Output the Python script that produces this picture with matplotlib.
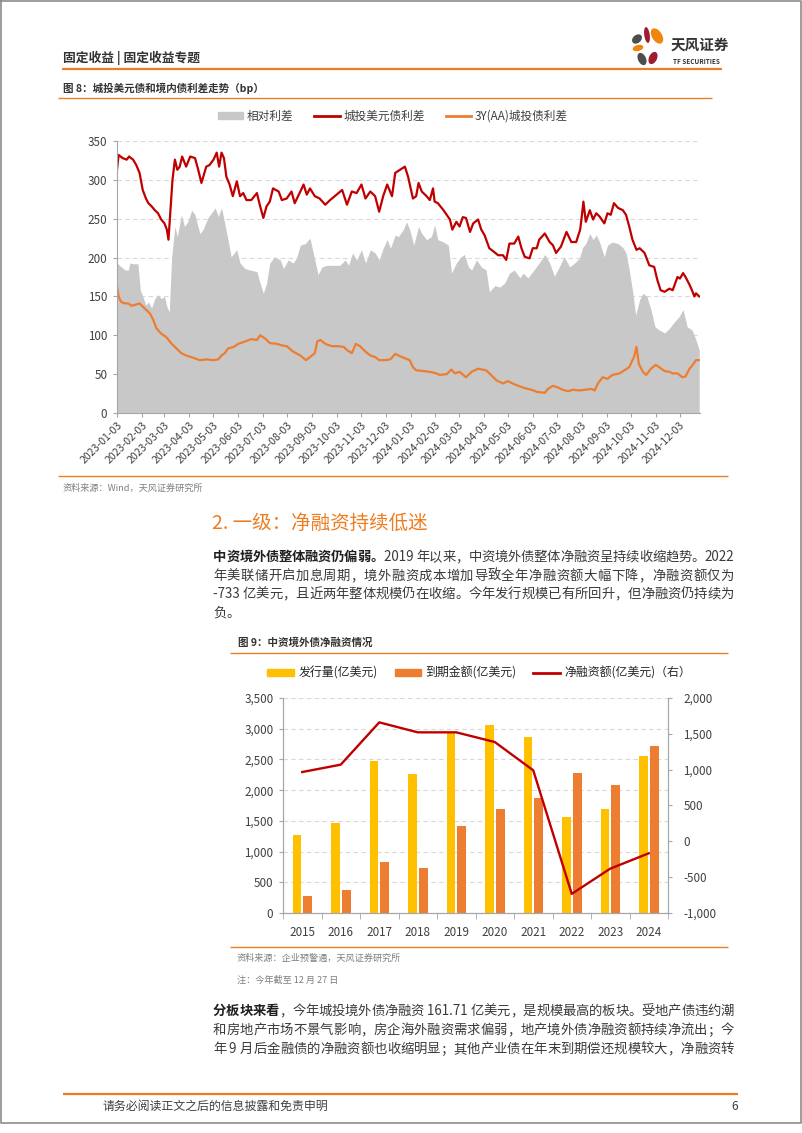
import numpy as np
import matplotlib
matplotlib.use('Agg')
import matplotlib.pyplot as plt
import matplotlib.dates as mdates
from matplotlib.lines import Line2D
from matplotlib.patches import Patch, Ellipse
from matplotlib.ticker import FuncFormatter, MultipleLocator

plt.rcParams['font.family'] = ['Noto Sans CJK SC', 'DejaVu Sans']
plt.rcParams['axes.unicode_minus'] = False

# ---------------- chart 1 data (days after 2023-01-03, bp) ----------------
red_day = [0, 2, 7, 12, 15, 20, 24, 28, 32, 36, 39, 43, 47, 51, 55, 59, 62, 64, 66, 69,
           72, 75, 78, 81, 86, 91, 97, 101, 105, 111, 115, 120, 124, 127, 130, 133, 136, 140, 144, 149,
           153, 157, 161, 167, 174, 178, 182, 186, 190, 194, 201, 205, 211, 217, 221, 228, 232, 236, 240, 246,
           252, 259, 265, 273, 280, 286, 292, 298, 304, 309, 315, 321, 326, 331, 336, 342, 346,
           358, 362, 368, 372, 375, 379, 385, 389, 393, 395, 399, 406, 414, 417, 422, 426, 430, 434, 439, 443,
           449, 453, 457, 463, 468, 474, 480, 484, 488, 494, 499, 503, 507, 513, 517, 522, 525, 532, 538, 542,
           546, 552, 559, 565, 571, 576, 578, 580, 583, 588, 592, 596, 600, 606, 610, 614, 618, 623, 629, 633,
           637, 641, 646, 650, 656, 662, 668, 672, 676, 681, 687, 691, 697, 700, 704, 707, 712, 715, 718, 720, 724]
red_val = [313, 332, 328, 326, 330, 326, 319, 309, 287, 276, 270, 266, 261, 257, 249, 244, 236, 223, 253, 300,
           326, 313, 317, 330, 317, 330, 328, 313, 296, 317, 319, 326, 335, 317, 335, 328, 304, 294, 279, 298,
           279, 283, 274, 274, 283, 266, 251, 266, 272, 289, 285, 274, 276, 285, 270, 285, 294, 281, 289, 279,
           276, 268, 274, 281, 287, 268, 285, 283, 294, 276, 285, 279, 259, 279, 294, 279, 309,
           317, 304, 276, 279, 296, 285, 279, 274, 289, 272, 270, 261, 249, 236, 246, 240, 252, 251, 233, 244,
           249, 236, 229, 212, 208, 203, 203, 197, 218, 218, 227, 212, 201, 199, 212, 212, 223, 231, 220, 216,
           206, 214, 233, 220, 220, 236, 253, 272, 246, 261, 249, 257, 253, 244, 257, 255, 270, 264, 261, 255,
           240, 223, 210, 212, 206, 190, 188, 171, 158, 156, 160, 158, 175, 173, 180, 175, 165, 158, 150, 154, 150]

org_day = [0, 2, 5, 10, 14, 18, 22, 28, 34, 41, 45, 49, 55, 61, 68, 74, 80, 86, 95, 103,
           111, 120, 126, 130, 134, 138, 145, 151, 159, 167, 174, 178, 184, 190, 199, 205, 211, 219, 228, 235,
           240, 246, 249, 253, 259, 267, 275, 282, 286, 292, 297, 302, 309, 315, 321, 326, 333, 340, 346, 352,
           364, 368, 372, 381, 389, 397, 401, 410, 416, 420, 426, 434, 441, 449, 459, 465, 472, 480, 486, 492,
           499, 507, 515, 523, 532, 536, 542, 548, 554, 561, 567, 575, 583, 590, 594, 598, 604, 610, 616, 625,
           631, 637, 641, 643, 646, 649, 654, 658, 664, 670, 674, 681, 687, 691, 697, 703, 707, 712, 716, 720, 724]
org_val = [163, 150, 143, 141, 141, 138, 139, 141, 135, 128, 120, 109, 102, 98, 89, 83, 77, 74, 71, 68,
           69, 68, 69, 74, 77, 83, 85, 89, 92, 95, 94, 100, 96, 90, 89, 87, 86, 79, 74, 68,
           72, 77, 92, 94, 89, 86, 86, 85, 81, 77, 89, 86, 79, 74, 72, 68, 68, 69, 76, 73,
           68, 59, 55, 54, 53, 51, 49, 50, 56, 51, 53, 46, 53, 57, 55, 49, 42, 38, 41, 38,
           35, 32, 30, 27, 26, 31, 35, 33, 30, 28, 30, 29, 30, 31, 29, 38, 46, 44, 49, 51,
           55, 59, 68, 72, 85, 63, 53, 49, 57, 62, 59, 54, 53, 51, 51, 46, 47, 57, 62, 68, 68]

gap_day = [0, 3, 10, 14, 16, 20, 26, 29, 32, 36, 39, 43, 47, 51, 55, 59, 62, 65, 68, 72,
           75, 80, 84, 88, 93, 97, 103, 107, 113, 120, 122, 126, 130, 134, 138, 142, 149, 153, 159, 165,
           174, 178, 182, 186, 190, 196, 203, 207, 213, 219, 223, 228, 234, 240, 246, 250, 255, 261, 269, 277,
           284, 288, 293, 298, 304, 309, 315, 321, 326, 331, 336, 340, 346, 350,
           356, 360, 364, 369, 375, 379, 385, 391, 395, 399, 406, 412, 416, 422, 428, 432, 437, 441, 447, 453,
           459, 463, 470, 476, 482, 488, 494, 501, 505, 511, 517, 525, 532, 538, 544, 550, 556, 563, 569, 575,
           579, 583, 588, 592, 596, 600, 606, 610, 616, 623, 629, 633, 637, 641, 645, 650, 654, 659, 664, 669,
           674, 681, 687, 693, 699, 704, 709, 715, 720, 724]
gap_val = [193, 190, 184, 184, 193, 192, 192, 158, 150, 139, 143, 135, 147, 152, 147, 150, 137, 130, 201, 240,
           227, 255, 240, 246, 261, 255, 231, 236, 251, 261, 264, 253, 264, 244, 223, 201, 210, 193, 186, 184,
           182, 167, 154, 167, 193, 201, 197, 186, 197, 193, 199, 216, 218, 225, 197, 178, 188, 190, 190, 190,
           197, 190, 206, 197, 210, 193, 210, 206, 197, 212, 223, 212, 229, 227,
           236, 246, 236, 216, 240, 231, 223, 227, 242, 223, 220, 216, 180, 193, 201, 204, 188, 184, 197, 188,
           184, 156, 164, 162, 167, 180, 184, 174, 180, 174, 182, 193, 204, 193, 176, 188, 201, 188, 193, 199,
           213, 218, 231, 223, 229, 220, 201, 216, 220, 218, 213, 206, 184, 158, 126, 146, 154, 150, 133, 111,
           107, 103, 109, 117, 124, 133, 111, 107, 94, 81]

legend1 = ['相对利差', '城投美元债利差', '3Y(AA)城投债利差']

# ---------------- chart 2 data ----------------
years = ['2015', '2016', '2017', '2018', '2019', '2020', '2021', '2022', '2023', '2024']
issue = [1265, 1460, 2480, 2263, 2940, 3066, 2870, 1557, 1688, 2556]
mature = [282, 380, 825, 738, 1411, 1688, 1872, 2279, 2084, 2719]
net = [967, 1070, 1660, 1521, 1521, 1386, 991, -733, -381, -167]
legend2 = ['发行量(亿美元)', '到期金额(亿美元)', '净融资额(亿美元)（右）']

ORANGE = '#EE7D22'
RED = '#C00000'
GRAY_TXT = '#404040'

W, H = 802, 1133
fig = plt.figure(figsize=(W / 100, H / 100), dpi=100)

# page layer in pixel coordinates (y downwards)
pg = fig.add_axes([0, 0, 1, 1])
pg.set_xlim(0, W)
pg.set_ylim(H, 0)
pg.axis('off')


def hline(y, x0, x1, color=ORANGE, lw=1.0):
    pg.plot([x0, x1], [y, y], color=color, lw=lw, solid_capstyle='butt')


def ax_rect(x0, x1, ytop, ybot):
    return [x0 / W, 1 - ybot / H, (x1 - x0) / W, (ybot - ytop) / H]


# page frame
pg.plot([0.5, 0.5, 801, 801, 0.5], [0.5, 1123, 1123, 0.5, 0.5], color='#8c8c8c', lw=1.2)

# header
pg.text(63, 58, '固定收益 | 固定收益专题', fontsize=9.2, color='#333333', weight='bold', va='center')
hline(69, 62, 722, lw=1.6)
for (cx, cy, w, h, ang, c) in [(647, 35, 5.5, 16, -8, '#9E1B32'), (657, 36, 10, 17, -32, '#F0860D'),
                               (637, 39, 8, 11, 50, '#4D4D4D'), (638, 48, 11, 6, -15, '#F0860D'),
                               (642, 59, 8, 13, -25, '#4D4D4D'), (653, 58, 8, 13, 25, '#9E1B32')]:
    pg.add_patch(Ellipse((cx, cy), w, h, angle=ang, color=c, lw=0))
pg.text(671, 45, '天风证券', fontsize=10.5, weight='bold', color='#333333', va='center')
pg.text(673, 61, 'TF SECURITIES', fontsize=4.6, weight='bold', color='#333333', va='center')

# ---------------- figure 8 ----------------
pg.text(63, 88, '图 8：城投美元债和境内债利差走势（bp）', fontsize=7.6, weight='bold', color='#333333', va='center')
hline(98, 58, 712, lw=1.0)

start = np.datetime64('2023-01-03')
ax1 = fig.add_axes(ax_rect(117, 700, 141, 413))
ax1.fill_between(start + np.array(gap_day), 0, gap_val, color='#C8C8C8', lw=0, label=legend1[0])
ax1.plot(start + np.array(red_day), red_val, color=RED, lw=1.6, label=legend1[1])
ax1.plot(start + np.array(org_day), org_val, color='#ED7D31', lw=1.6, label=legend1[2])
ax1.set_xlim(start, start + np.timedelta64(725, 'D'))
ax1.set_ylim(0, 350)
ax1.yaxis.set_major_locator(MultipleLocator(50))
ax1.xaxis.set_major_locator(mdates.MonthLocator(bymonthday=3))
ax1.xaxis.set_major_formatter(mdates.DateFormatter('%Y-%m-%d'))
ax1.grid(axis='y', color='#D9D9D9', ls=(0, (4, 3)), lw=0.8)
ax1.set_axisbelow(True)
for s in ['top', 'right']:
    ax1.spines[s].set_visible(False)
for s in ['left', 'bottom']:
    ax1.spines[s].set_color('#A6A6A6')
ax1.tick_params(axis='both', colors='#A6A6A6', length=3, labelcolor=GRAY_TXT)
ax1.tick_params(axis='y', labelsize=8.4, pad=4)
ax1.tick_params(axis='x', labelsize=7.6, pad=2)
for lab in ax1.get_xticklabels():
    lab.set_rotation(45)
    lab.set_ha('right')
    lab.set_rotation_mode('anchor')
h1 = [Patch(color='#C8C8C8'), Line2D([], [], color=RED, lw=2), Line2D([], [], color='#ED7D31', lw=2)]
ax1.legend(h1, legend1, ncol=3, loc='center', bbox_to_anchor=(0.473, 1.092), frameon=False,
           fontsize=8.4, handlelength=2.2, handleheight=0.55, handletextpad=0.3, columnspacing=1.8,
           labelcolor=GRAY_TXT)

hline(476, 58, 728, lw=1.0)
pg.text(63, 488, '资料来源：Wind，天风证券研究所', fontsize=6.6, color='#7F7F7F', va='center')

# ---------------- body text ----------------
renderer = fig.canvas.get_renderer()


def tokens(s):
    out, buf = [], ''
    for ch in s:
        if ord(ch) < 128:
            buf += ch
        else:
            if buf:
                out.append(buf)
                buf = ''
            out.append(ch)
    if buf:
        out.append(buf)
    return out


def put_line(y, parts, x0=213, x1=734, size=9.6, justify=True):
    arts = []
    for s, bold in parts:
        for tk in tokens(s):
            arts.append(pg.text(0, y, tk, fontsize=size, va='center', ha='left',
                                weight='bold' if bold else 'normal',
                                color='#1f1f1f' if bold else '#3a3a3a'))
    widths = [a.get_window_extent(renderer).width for a in arts]
    gap = (x1 - x0 - sum(widths)) / (len(arts) - 1) if justify and len(arts) > 1 else 0
    x = x0
    for a, w in zip(arts, widths):
        a.set_x(x)
        x += w + gap


pg.text(212, 523, '2. 一级：净融资持续低迷', fontsize=14, color=ORANGE, va='center', weight='medium')
put_line(557, [('中资境外债整体融资仍偏弱。', True), ('2019 年以来，中资境外债整体净融资呈持续收缩趋势。2022', False)])
put_line(576, [('年美联储开启加息周期，境外融资成本增加导致全年净融资额大幅下降，净融资额仅为', False)])
put_line(594, [('-733 亿美元，且近两年整体规模仍在收缩。今年发行规模已有所回升，但净融资仍持续为', False)])
put_line(613, [('负。', False)], justify=False)

# ---------------- figure 9 ----------------
pg.text(238, 643, '图 9：中资境外债净融资情况', fontsize=7.6, weight='bold', color='#333333', va='center')
hline(653, 230, 728, lw=1.0)

ax2 = fig.add_axes(ax_rect(283, 668, 698, 913))
x = np.arange(len(years))
b1 = ax2.bar(x - 0.135, issue, width=0.23, color='#FFC000', zorder=2)
b2 = ax2.bar(x + 0.145, mature, width=0.23, color='#ED7D31', zorder=2)
ax2.set_ylim(0, 3500)
ax2.set_xlim(-0.5, len(years) - 0.5)
ax2.yaxis.set_major_locator(MultipleLocator(500))
ax2.yaxis.set_major_formatter(FuncFormatter(lambda v, p: f'{v:,.0f}'))
ax2.grid(axis='y', color='#D9D9D9', ls=(0, (4, 3)), lw=0.8)
ax2.set_axisbelow(True)
ax2.set_xticks(x)
ax2.set_xticklabels(years)
ax2.set_xticks(np.arange(-0.5, len(years)), minor=True)
ax2.tick_params(axis='x', which='major', length=0, pad=9, labelsize=8.4, labelcolor=GRAY_TXT)
ax2.tick_params(axis='x', which='minor', length=4, color='#A6A6A6')
ax2.tick_params(axis='y', length=3, color='#A6A6A6', labelsize=8.4, labelcolor=GRAY_TXT, pad=4)
ax2.spines['top'].set_visible(False)
for s in ['left', 'right', 'bottom']:
    ax2.spines[s].set_color('#A6A6A6')

ax2r = ax2.twinx()
ln, = ax2r.plot(x, net, color=RED, lw=1.7)
ax2r.set_ylim(-1000, 2000)
ax2r.yaxis.set_major_locator(MultipleLocator(500))
ax2r.yaxis.set_major_formatter(FuncFormatter(lambda v, p: f'{v:,.0f}'))
ax2r.tick_params(axis='y', length=3, color='#A6A6A6', labelsize=8.4, labelcolor=GRAY_TXT, pad=8)
ax2r.spines['top'].set_visible(False)
for s in ['left', 'right', 'bottom']:
    ax2r.spines[s].set_color('#A6A6A6')

h2 = [Patch(color='#FFC000'), Patch(color='#ED7D31'), Line2D([], [], color=RED, lw=2)]
ax2.legend(h2, legend2, ncol=3, loc='center', bbox_to_anchor=(0.51, 1.116), frameon=False,
           fontsize=8.6, handlelength=2.2, handleheight=0.55, handletextpad=0.4, columnspacing=1.4,
           labelcolor='#262626')

hline(947, 230, 728, lw=1.0)
pg.text(237, 958, '资料来源：企业预警通，天风证券研究所', fontsize=6.6, color='#7F7F7F', va='center')
pg.text(237, 980, '注：今年截至 12 月 27 日', fontsize=6.6, color='#7F7F7F', va='center')

put_line(1011, [('分板块来看', True), ('，今年城投境外债净融资 161.71 亿美元，是规模最高的板块。受地产债违约潮', False)])
put_line(1030, [('和房地产市场不景气影响，房企海外融资需求偏弱，地产境外债净融资额持续净流出；今', False)])
put_line(1049, [('年 9 月后金融债的净融资额也收缩明显；其他产业债在年末到期偿还规模较大，净融资转', False)])

# footer
hline(1094, 63, 738, lw=1.6)
pg.text(103, 1106, '请务必阅读正文之后的信息披露和免责申明', fontsize=8.6, color=GRAY_TXT, va='center')
pg.text(731, 1106, '6', fontsize=8.6, color=GRAY_TXT, va='center')

fig.savefig('out.png', dpi=100)
